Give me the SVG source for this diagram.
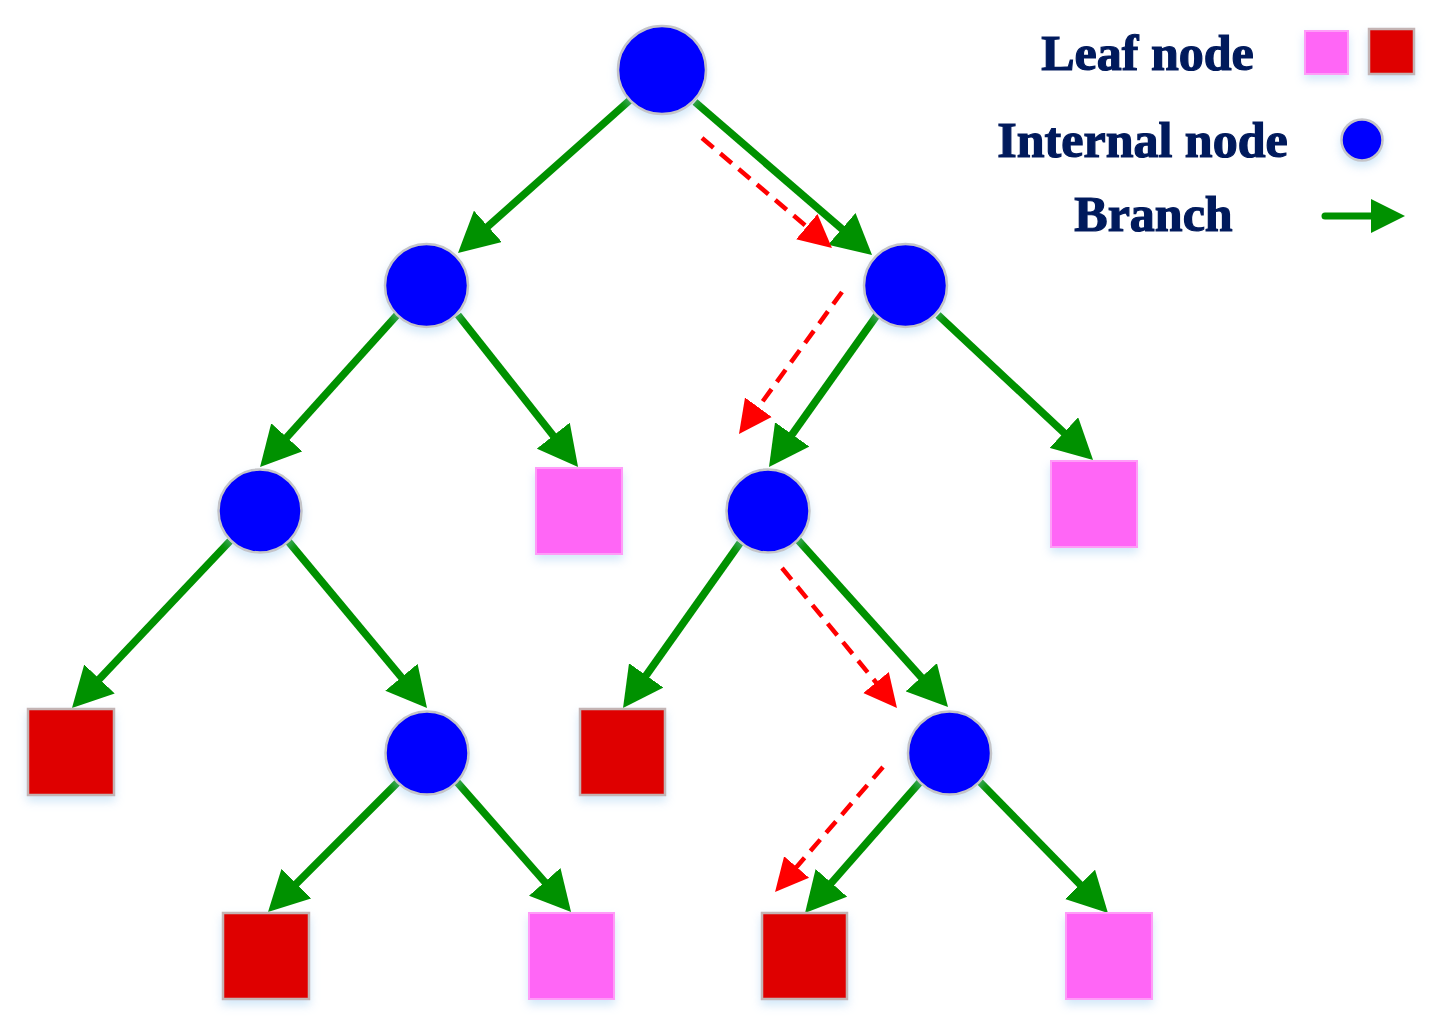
<svg xmlns="http://www.w3.org/2000/svg" width="1436" height="1032" viewBox="0 0 1436 1032">
<style>
.edge{stroke:#009100;stroke-width:7.5;fill:none}
.path{stroke:#ff0000;stroke-width:4.5;stroke-dasharray:15 9;fill:none}
.inode{fill:#0000ff;stroke:#c4c4c8;stroke-width:2.5;filter:url(#sh)}
.leafp{fill:#ff66f6;stroke:#ff9cf8;stroke-width:2;filter:url(#sh)}
.leafr{fill:#df0000;stroke:#c4b4b4;stroke-width:2.5;filter:url(#sh)}
.lbl{font-family:"Liberation Serif","Times New Roman",serif;font-weight:bold;font-size:50px;fill:#001a5c;stroke:#001a5c;stroke-width:1.2;text-anchor:middle}
</style>
<defs>
<filter id="sh" x="-30%" y="-30%" width="160%" height="170%">
<feDropShadow dx="0" dy="5" stdDeviation="5" flood-color="#9ccbf0" flood-opacity="0.45"/>
</filter>
<marker id="ga" markerUnits="userSpaceOnUse" markerWidth="42" markerHeight="42" viewBox="0 -21 42 42" refX="2" refY="0" orient="auto">
<path d="M0,-21 L40,0 L0,21 z" fill="#009100"/>
</marker>
<marker id="ra" markerUnits="userSpaceOnUse" markerWidth="35" markerHeight="35" viewBox="0 -17 35 34" refX="2" refY="0" orient="auto">
<path d="M0,-16.5 L33,0 L0,16.5 z" fill="#ff0000"/>
</marker>
</defs>
<rect width="1436" height="1032" fill="#ffffff"/>

<g id="connectors">
<line class="edge" x1="630" y1="100" x2="486.4" y2="227.7" marker-end="url(#ga)"/>
<line class="edge" x1="695" y1="102" x2="843.3" y2="230.2" marker-end="url(#ga)"/>
<line class="edge" x1="397" y1="315" x2="285.5" y2="438.8" marker-end="url(#ga)"/>
<line class="edge" x1="458" y1="315" x2="554.5" y2="437.2" marker-end="url(#ga)"/>
<line class="edge" x1="877" y1="315" x2="791" y2="436" marker-end="url(#ga)"/>
<line class="edge" x1="938" y1="315" x2="1065.3" y2="434" marker-end="url(#ga)"/>
<line class="edge" x1="230" y1="541" x2="98.1" y2="680.4" marker-end="url(#ga)"/>
<line class="edge" x1="288" y1="541" x2="402.7" y2="678.8" marker-end="url(#ga)"/>
<line class="edge" x1="740" y1="543" x2="645" y2="677" marker-end="url(#ga)"/>
<line class="edge" x1="798" y1="540" x2="922.6" y2="678.7" marker-end="url(#ga)"/>
<line class="edge" x1="398" y1="782" x2="294.9" y2="885.1" marker-end="url(#ga)"/>
<line class="edge" x1="457" y1="782" x2="546" y2="883.4" marker-end="url(#ga)"/>
<line class="edge" x1="920" y1="782" x2="830.1" y2="884.4" marker-end="url(#ga)"/>
<line class="edge" x1="980" y1="782" x2="1081.4" y2="885.8" marker-end="url(#ga)"/>
<line class="path" x1="702" y1="138" x2="808.3" y2="228" marker-end="url(#ra)"/>
<line class="path" x1="842" y1="292" x2="757.2" y2="408.9" marker-end="url(#ra)"/>
<line class="path" x1="782" y1="568" x2="877.3" y2="684" marker-end="url(#ra)"/>
<line class="path" x1="883" y1="767" x2="795.3" y2="868.5" marker-end="url(#ra)"/>
</g>

<g id="n-root"><circle class="inode" cx="662" cy="70" r="44"/></g>
<g id="n-1"><circle class="inode" cx="426.5" cy="285.5" r="41.5"/></g>
<g id="n-2"><circle class="inode" cx="905.5" cy="285.5" r="41.5"/></g>
<g id="n-3"><circle class="inode" cx="260" cy="511" r="41.5"/></g>
<g id="n-4"><circle class="inode" cx="768" cy="511" r="41.5"/></g>
<g id="n-5"><circle class="inode" cx="427" cy="753" r="41.5"/></g>
<g id="n-6"><circle class="inode" cx="949.5" cy="753" r="41.5"/></g>

<g id="leaf-1"><rect class="leafp" x="536" y="468" width="86" height="86"/></g>
<g id="leaf-2"><rect class="leafp" x="1051" y="461" width="86" height="86"/></g>
<g id="leaf-3"><rect class="leafr" x="28" y="709" width="86" height="86"/></g>
<g id="leaf-4"><rect class="leafr" x="580" y="709" width="85" height="86"/></g>
<g id="leaf-5"><rect class="leafr" x="223" y="913" width="86" height="86"/></g>
<g id="leaf-6"><rect class="leafp" x="529" y="913" width="85" height="86"/></g>
<g id="leaf-7"><rect class="leafr" x="762" y="913" width="85" height="86"/></g>
<g id="leaf-8"><rect class="leafp" x="1066" y="913" width="86" height="86"/></g>

<g id="legend">
<text class="lbl" x="1147.5" y="70">Leaf node</text>
<text class="lbl" x="1142.5" y="157">Internal node</text>
<text class="lbl" x="1153.5" y="231">Branch</text>
<rect class="leafp" x="1305" y="31" width="43" height="43"/>
<rect class="leafr" x="1369" y="29" width="45" height="45"/>
<circle class="inode" cx="1362" cy="140" r="20.5"/>
<line x1="1325" y1="216" x2="1374" y2="216" stroke="#009100" stroke-width="7" stroke-linecap="round"/>
<path d="M1371,199 L1405,216 L1371,233 z" fill="#009100"/>
</g>
</svg>
